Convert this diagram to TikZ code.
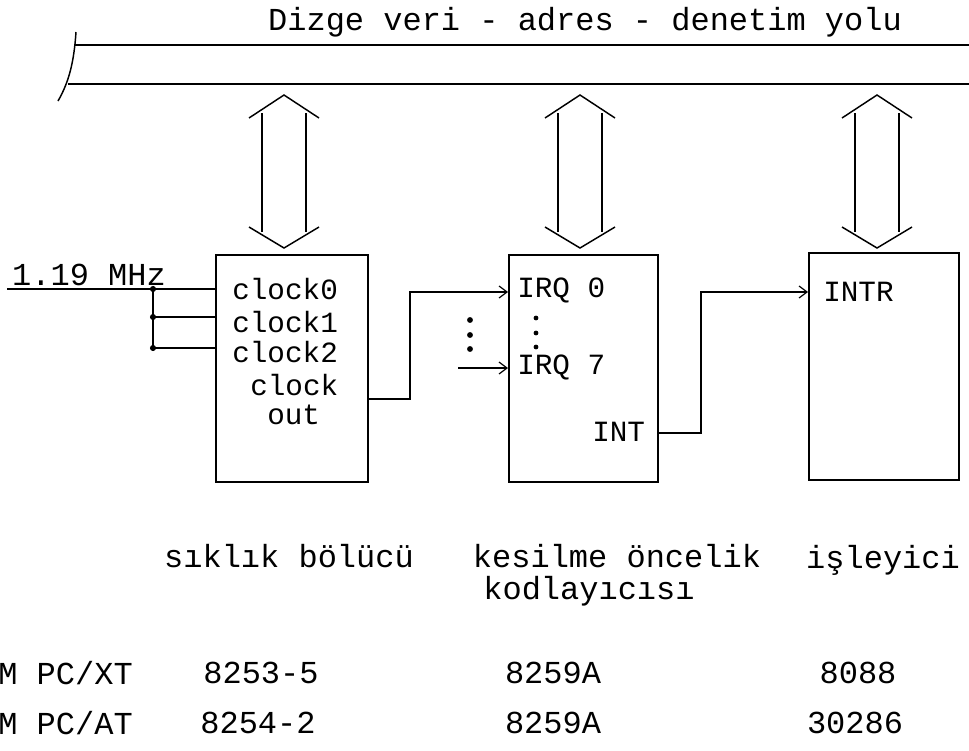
\documentclass[tikz,border=0pt]{standalone}
\usepackage{fontspec}
\setmonofont{Liberation Mono}
\usetikzlibrary{arrows.meta}
\newcommand{\dblarrow}[2]{%
  \draw[busarrow] ({#1-35},118) -- (#1,95) -- ({#1+35},118);
  \draw[busarrow] ({#1-22},113) -- ({#1-22},232);
  \draw[busarrow] ({#1+22},113) -- ({#1+22},232);
  \draw[busarrow] ({#1-35},227) -- (#1,248) -- ({#1+35},227);
  \coordinate (#2) at (#1,170);
}
\begin{document}
\begin{tikzpicture}[x=0.75pt,y=-0.75pt,
  every node/.style={font=\ttfamily\fontsize{24}{26}\selectfont, inner sep=0pt},
  boxtxt/.style={font=\ttfamily\fontsize{22}{24}\selectfont, anchor=west},
  box/.style={draw, line width=1.3pt, anchor=north west},
  wire/.style={line width=0.9pt},
  arr/.style={line width=0.9pt, -{Straight Barb[length=6pt,width=9pt,line width=0.9pt]}},
  busline/.style={line width=1.1pt},
  busarrow/.style={line width=1.1pt, line join=miter},
  junc/.style={fill=black}]
\useasboundingbox (0,0) rectangle (969,750);

% bus
\node (title) at (585,22) {Dizge veri - adres - denetim yolu};
\coordinate (bt0) at (74,45);
\coordinate (bt1) at (969,45);
\coordinate (bb0) at (68,84);
\coordinate (bb1) at (969,84);
\coordinate (cv0) at (76,32);
\coordinate (cv1) at (58,101);
\draw[busline] (bt0) -- (bt1);
\draw[busline] (bb0) -- (bb1);
\draw[busline] (cv0) .. controls (74,62) and (69,82) .. (cv1);

% bus arrows
\dblarrow{284}{a1}
\dblarrow{580}{a2}
\dblarrow{877}{a3}

% boxes
\node[box, minimum width=114pt, minimum height=170.25pt] (b1) at (215,254) {};
\node[box, minimum width=111.75pt, minimum height=170.25pt] (b2) at (508,254) {};
\node[box, minimum width=112.5pt, minimum height=170.25pt] (b3) at (808,252) {};

% box 1 texts
\node[boxtxt] (c0) at (232,289) {clock0};
\node[boxtxt] (c1) at (232,322) {clock1};
\node[boxtxt] (c2) at (232,352) {clock2};
\node[boxtxt] (c3) at (250,385) {clock};
\node[boxtxt] (c4) at (267,415) {out};

% box 2 texts
\node[boxtxt] (q0t) at (517,290) {IRQ 0};
\node[boxtxt] (q7t) at (517,367) {IRQ 7};
\node[boxtxt] (intt) at (592,432) {INT};

% box 3 text
\node[boxtxt] (intr) at (823,292) {INTR};

% input clock
\node[anchor=south] (mhz) at (89,286) {1.19 MHz};
\coordinate (in) at (7,289);
\coordinate (j0) at (153,289);
\coordinate (j1) at (153,317);
\coordinate (j2) at (153,348);
\draw[wire] (in) -- (b1.west |- in);
\draw[wire] (j0) -- (j2);
\draw[wire] (j1) -- (b1.west |- j1);
\draw[wire] (j2) -- (b1.west |- j2);
\fill[junc] (j0) circle (2.3pt);
\fill[junc] (j1) circle (2.3pt);
\fill[junc] (j2) circle (2.3pt);

% clock out -> IRQ0
\coordinate (k1) at (410,399);
\coordinate (k2) at (410,292);
\draw[arr] (b1.east |- k1) -- (k1) -- (k2) -- (b2.west |- k2);

% IRQ7 input
\coordinate (q7) at (458,368);
\draw[arr] (q7) -- (b2.west |- q7);

% dots
\fill (470,320) circle (2.2pt);
\fill (470,335) circle (2.2pt);
\fill (470,349) circle (2.2pt);
\fill (536,318) circle (1.8pt);
\fill (536,333) circle (1.8pt);
\fill (536,347) circle (1.8pt);

% INT -> INTR
\coordinate (m1) at (701,433);
\coordinate (m2) at (701,292);
\draw[arr] (b2.east |- m1) -- (m1) -- (m2) -- (b3.west |- m2);

% labels
\node (l1) at (289,556) {sıklık bölücü};
\node (l2) at (617,556) {kesilme öncelik};
\node (l2b) at (589,591) {kodlayıcısı};
\node (l3) at (883,560) {işleyici};

\node[anchor=east] (xt) at (133,673) {IBM PC/XT};
\node (xt1) at (261,673) {8253-5};
\node (xt2) at (553,673) {8259A};
\node (xt3) at (858,673) {8088};

\node[anchor=east] (at) at (133,723) {IBM PC/AT};
\node (at1) at (258,723) {8254-2};
\node (at2) at (553,723) {8259A};
\node (at3) at (855,723) {30286};
\end{tikzpicture}
\end{document}
